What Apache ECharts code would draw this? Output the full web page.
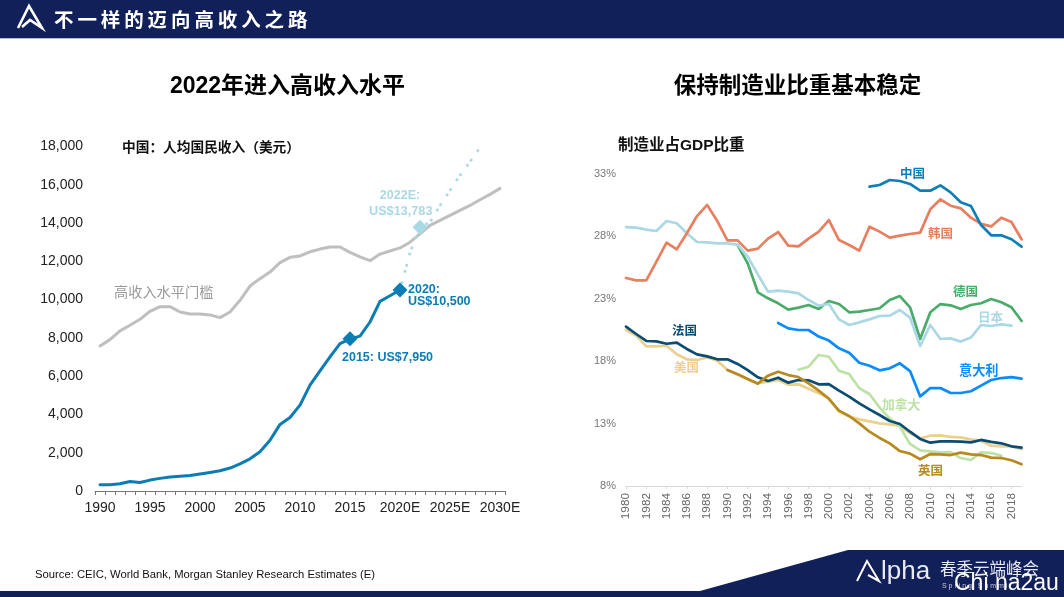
<!DOCTYPE html>
<html lang="zh-CN">
<head>
<meta charset="utf-8">
<title>不一样的迈向高收入之路</title>
<script src="https://cdn.jsdelivr.net/npm/echarts@6/dist/echarts.min.js"></script>
<style>
  html, body { margin: 0; padding: 0; background: #fff; }
  #chart { width: 1064px; height: 597px; }
  #headline {
    position: absolute; left: 54px; top: 4px; line-height: 28px;
    font: bold 19.5px "Noto Sans CJK SC", sans-serif; letter-spacing: 3.9px; color: #fff;
  }
</style>
</head>
<body>
<div id="chart"></div>
<div id="headline">不一样的迈向高收入之路</div>
<script>
// left chart
const incomeYears = ['1990','1991','1992','1993','1994','1995','1996','1997','1998','1999','2000','2001','2002','2003','2004','2005','2006','2007','2008','2009','2010','2011','2012','2013','2014','2015','2016','2017','2018','2019','2020E','2021E','2022E','2023E','2024E','2025E','2026E','2027E','2028E','2029E','2030E'];
const threshold = [7580,7910,8365,8660,8970,9390,9630,9630,9355,9250,9250,9200,9060,9355,9965,10710,11095,11440,11930,12210,12280,12500,12640,12750,12750,12470,12230,12035,12380,12540,12700,13000,13440,13880,14140,14400,14660,14920,15220,15500,15810];
const chinaGni = [330,330,380,500,440,570,660,730,770,810,890,970,1060,1200,1420,1680,2050,2650,3480,3840,4490,5530,6280,7010,7700,7950,8090,8830,9910,10200,10500,null,null,null,null,null,null,null,null,null,null];
const chinaGniForecast = [null,null,null,null,null,null,null,null,null,null,null,null,null,null,null,null,null,null,null,null,null,null,null,null,null,null,null,null,null,null,10500,12450,13783,14050,14920,15700,16490,17200,17950,null,null];
const gniMilestones = [['2015',7950],['2020E',10500]];
const gniForecastMilestones = [['2022E',13783]];

// right chart
const mfgYears = ['1980','1981','1982','1983','1984','1985','1986','1987','1988','1989','1990','1991','1992','1993','1994','1995','1996','1997','1998','1999','2000','2001','2002','2003','2004','2005','2006','2007','2008','2009','2010','2011','2012','2013','2014','2015','2016','2017','2018','2019'];
const mfgTicks = [8,13,18,23,28,33];
const mfgChina = [null,null,null,null,null,null,null,null,null,null,null,null,null,null,null,null,null,null,null,null,null,null,null,null,31.99,32.12,32.52,32.44,32.2,31.66,31.66,32.09,31.53,30.73,30.44,28.91,28.09,28.09,27.77,27.18];
const mfgKorea = [24.67,24.48,24.48,25.98,27.5,26.96,28.25,29.63,30.52,29.23,27.68,27.68,26.86,27.02,27.82,28.35,27.26,27.2,27.82,28.38,29.31,27.71,27.31,26.86,28.78,28.38,27.9,28.06,28.19,28.3,30.17,30.97,30.46,30.25,29.5,29.0,28.8,29.5,29.15,27.77];
const mfgGermany = [null,null,null,null,null,null,null,null,null,null,null,27.3,25.84,23.52,23.04,22.64,22.13,22.29,22.5,22.18,22.82,22.58,21.92,21.97,22.1,22.24,22.9,23.22,22.32,19.78,21.92,22.58,22.48,22.18,22.5,22.64,22.98,22.72,22.32,21.22];
const mfgJapan = [28.75,28.7,28.54,28.43,29.23,29.05,28.25,27.55,27.52,27.44,27.44,27.34,26.38,24.96,23.57,23.65,23.57,23.44,22.9,22.45,22.58,21.35,20.9,21.11,21.35,21.62,21.65,22.1,21.49,19.22,20.9,19.78,19.83,19.57,19.89,20.9,20.82,20.95,20.85,null];
const mfgItaly = [null,null,null,null,null,null,null,null,null,null,null,null,null,null,null,21.06,20.63,20.5,20.5,19.97,19.65,19.03,18.68,17.88,17.64,17.27,17.43,17.83,17.21,15.18,15.85,15.85,15.45,15.45,15.59,16.04,16.49,16.65,16.73,16.6];
const mfgFrance = [20.77,20.18,19.62,19.59,19.4,19.49,18.98,18.55,18.39,18.15,18.15,17.78,17.29,16.71,16.41,16.68,16.28,16.49,16.47,16.15,16.17,15.64,15.16,14.62,14.14,13.69,13.21,12.97,12.35,11.77,11.47,11.58,11.58,11.55,11.5,11.69,11.53,11.42,11.18,11.07];
const mfgUsa = [20.5,20.05,19.19,19.19,19.24,18.55,18.15,18.1,18.31,18.04,17.29,16.95,16.55,16.23,16.36,16.49,16.12,16.15,15.8,15.43,15.02,13.96,13.56,13.34,13.18,13.02,12.94,12.81,12.22,11.82,12.03,12.06,11.93,11.9,11.74,11.63,11.23,11.18,11.18,10.94];
const mfgCanada = [null,null,null,null,null,null,null,null,null,null,null,null,null,null,null,null,null,17.32,17.56,18.5,18.36,17.24,16.97,15.83,15.37,14.28,13.42,12.75,11.37,10.86,10.78,10.7,10.72,10.24,10.08,10.7,10.64,10.43,null,null];
const mfgUk = [null,null,null,null,null,null,null,null,null,null,17.29,16.95,16.57,16.2,16.84,17.16,16.89,16.73,16.23,15.64,14.99,14.04,13.61,13.02,12.35,11.85,11.42,10.8,10.59,10.14,10.56,10.54,10.48,10.67,10.54,10.48,10.27,10.24,10.06,9.74];

const FONT = '"Liberation Sans", "Noto Sans CJK SC", sans-serif';
const NAVY = '#12205a';
const BLUE = '#0b7db4';
const PALE = '#aad9e6';

function mfgLine(name, data, color) {
  return {
    name: name, type: 'line', xAxisIndex: 1, yAxisIndex: 1, data: data,
    showSymbol: false, symbol: 'none', silent: true,
    lineStyle: { color: color, width: 2.7, cap: 'round', join: 'round' }
  };
}

function label(text, x, y, color, size, weight, align) {
  return {
    type: 'text', x: x, y: y, silent: true,
    style: {
      text: text, fill: color, fontFamily: FONT, fontSize: size,
      fontWeight: weight || 'bold', align: align || 'left', verticalAlign: 'middle'
    }
  };
}

function poly(points, fill, stroke, width) {
  return {
    type: 'polyline', silent: true, shape: { points: points },
    style: { fill: fill || null, stroke: stroke || null, lineWidth: width || 0, lineJoin: 'miter' }
  };
}

const chart = echarts.init(document.getElementById('chart'));
chart.setOption({
  animation: false,
  backgroundColor: '#fff',
  textStyle: { fontFamily: FONT },
  grid: [
    { left: 95, top: 146.5, width: 410, height: 344.5 },
    { left: 626, top: 174, width: 395.6, height: 312 }
  ],
  xAxis: [
    {
      type: 'category', gridIndex: 0, data: incomeYears,
      axisLine: { lineStyle: { color: '#777', width: 1 } },
      axisTick: { show: true, interval: 0, length: 4, lineStyle: { color: '#777', width: 1 } },
      axisLabel: { interval: 4, color: '#222', fontSize: 14, margin: 10, fontFamily: FONT }
    },
    {
      type: 'category', gridIndex: 1, data: mfgYears, boundaryGap: false,
      axisLine: { lineStyle: { color: '#d9d9d9', width: 1 } },
      axisTick: { show: true, interval: 1, length: 3, lineStyle: { color: '#d9d9d9' } },
      axisLabel: { interval: 1, rotate: 90, color: '#666', fontSize: 11.8, margin: 7, fontFamily: FONT }
    }
  ],
  yAxis: [
    {
      type: 'value', gridIndex: 0, min: 0, max: 18000, interval: 2000,
      axisLine: { show: false }, axisTick: { show: false }, splitLine: { show: false },
      axisLabel: {
        color: '#222', fontSize: 14, margin: 12, fontFamily: FONT,
        formatter: function (v) { return v.toLocaleString('en-US'); }
      }
    },
    {
      type: 'value', gridIndex: 1, min: 8, max: 33,
      axisLine: { show: false }, axisTick: { show: false }, splitLine: { show: false },
      axisLabel: { customValues: mfgTicks, color: '#777', fontSize: 11, margin: 10, formatter: '{value}%', fontFamily: FONT }
    }
  ],
  series: [
    {
      name: '高收入水平门槛', type: 'line', data: threshold, showSymbol: false, symbol: 'none', silent: true,
      lineStyle: { color: '#bfbfbf', width: 3, cap: 'round', join: 'round' }
    },
    {
      name: '预测', type: 'line', data: chinaGniForecast, showSymbol: false, symbol: 'none', silent: true,
      lineStyle: { color: PALE, width: 2.7, type: [2.7, 3.6, 2.7, 9], cap: 'butt' }
    },
    {
      name: '人均国民收入', type: 'line', data: chinaGni, showSymbol: false, symbol: 'none', silent: true,
      lineStyle: { color: BLUE, width: 3, cap: 'round', join: 'round' }
    },
    {
      type: 'scatter', data: gniForecastMilestones, symbol: 'diamond', symbolSize: 15, silent: true, z: 6,
      itemStyle: { color: PALE, opacity: 1 }
    },
    {
      type: 'scatter', data: gniMilestones, symbol: 'diamond', symbolSize: 15, silent: true, z: 6,
      itemStyle: { color: BLUE, opacity: 1 }
    },
    mfgLine('美国', mfgUsa, '#ebd08e'),
    mfgLine('德国', mfgGermany, '#4aab6a'),
    mfgLine('日本', mfgJapan, '#abd8e4'),
    mfgLine('韩国', mfgKorea, '#e77f60'),
    mfgLine('中国', mfgChina, '#0e7fb5'),
    mfgLine('意大利', mfgItaly, '#0a8cff'),
    mfgLine('加拿大', mfgCanada, '#bde2a6'),
    mfgLine('法国', mfgFrance, '#0b4c73'),
    mfgLine('英国', mfgUk, '#b8891e')
  ],
  graphic: { elements: [
    // header and footer chrome
    { type: 'rect', silent: true, shape: { x: 0, y: 0, width: 1064, height: 38 }, style: { fill: NAVY } },
    { type: 'rect', silent: true, shape: { x: 0, y: 38, width: 1064, height: 1 }, style: { fill: '#b4bbd6' } },
    poly([[18, 28], [29, 6], [42, 28], [30, 20], [22, 27]], null, '#fff', 2.6),
    poly([[848, 550], [1064, 550], [1064, 597], [0, 597], [0, 591], [700, 591]], NAVY),
    poly([[857, 581], [867, 561], [879, 581], [868, 575]], null, '#fff', 2),
    label('lpha', 881, 572, '#e8eaf2', 26, 'normal'),
    label('春季云端峰会', 940, 570, '#e8eaf2', 16.5, 'normal'),
    label('S p r i n g   S u m m i t', 942, 586, '#c9cde0', 7, 'normal'),
    label('Chi na2au', 954, 584, '#fff', 23, 'normal'),

    // panel titles
    label('2022年进入高收入水平', 287.5, 87, '#000', 23, 'bold', 'center'),
    label('保持制造业比重基本稳定', 797.5, 87, '#000', 22.5, 'bold', 'center'),
    label('中国：人均国民收入（美元）', 122, 148, '#111', 13.7),
    label('制造业占GDP比重', 618, 146, '#111', 15.5),
    label('Source: CEIC, World Bank, Morgan Stanley Research Estimates (E)', 35, 575, '#111', 11.25, 'normal'),

    // left annotations
    label('高收入水平门槛', 114, 293, '#9a9a9a', 14.2, 'normal'),
    label('2022E:', 400, 196, PALE, 12.5, 'bold', 'center'),
    label('US$13,783', 369, 211, PALE, 12.7),
    label('2020:', 408, 290, BLUE, 12.5),
    label('US$10,500', 408, 301.5, BLUE, 12.5),
    label('2015: US$7,950', 342, 358, BLUE, 12.5),

    // right annotations
    label('中国', 900, 175, '#0e7fb5', 12.5),
    label('韩国', 928, 235, '#e77f60', 12.5),
    label('德国', 953, 293, '#4aab6a', 12.5),
    label('日本', 978, 319, '#abd8e4', 12.5),
    label('意大利', 959, 371, '#0a8cff', 13.2),
    label('法国', 672, 332, '#0b4c73', 12.5),
    label('美国', 674, 369, '#ebd08e', 12.5),
    label('加拿大', 882, 405, '#bde2a6', 12.8),
    label('英国', 918, 472, '#b8891e', 12.5)
  ] }
});
</script>
</body>
</html>
